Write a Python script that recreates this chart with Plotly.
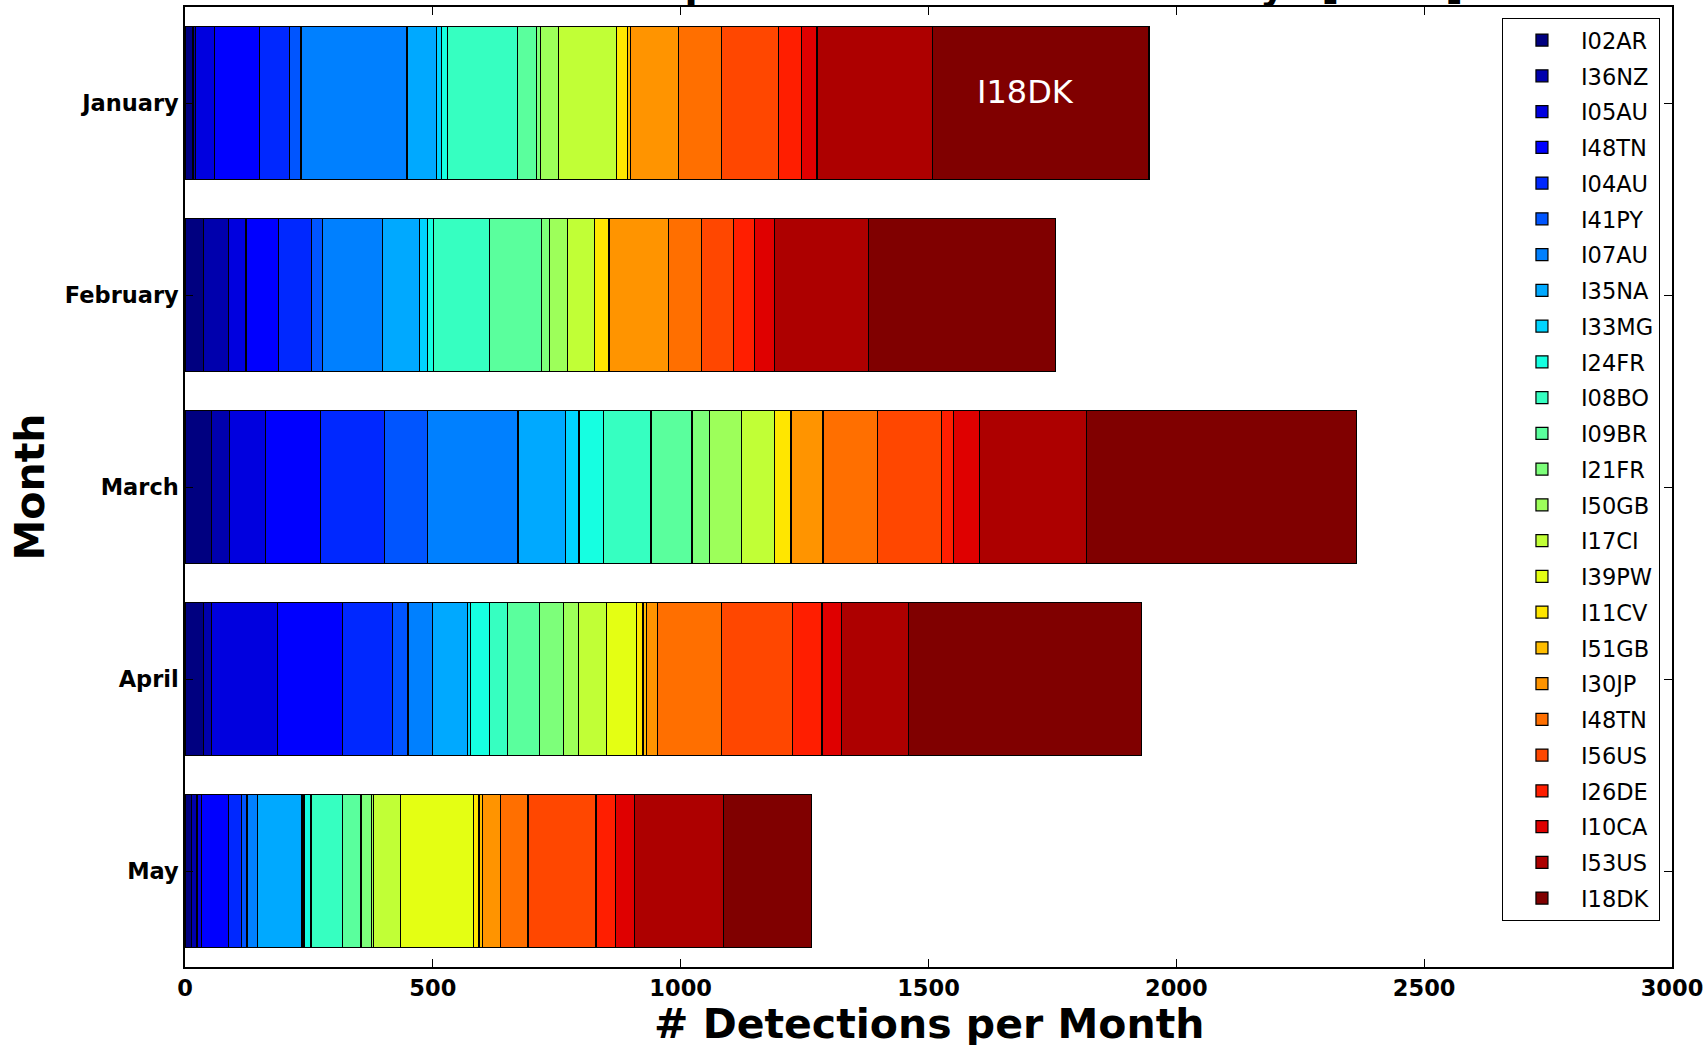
import numpy as np
import plotly.graph_objects as go

# ---- data ----
months = ["January", "February", "March", "April", "May"]
stations = ["I02AR", "I36NZ", "I05AU", "I48TN", "I04AU", "I41PY", "I07AU", "I35NA",
            "I33MG", "I24FR", "I08BO", "I09BR", "I21FR", "I50GB", "I17CI", "I39PW",
            "I11CV", "I51GB", "I30JP", "I48TN", "I56US", "I26DE", "I10CA", "I53US", "I18DK"]

jan = [16, 5, 39, 91, 60, 23, 214, 59, 11, 12, 141, 38, 9, 36, 116, 0, 23, 6, 96, 88, 115, 45, 32, 233, 437]
feb = [37, 51, 35, 66, 67, 21, 122, 74, 16, 12, 114, 105, 16, 35, 55, 0, 29, 2, 118, 67, 65, 42, 40, 190, 378]
mar = [54, 36, 72, 111, 129, 88, 182, 95, 28, 49, 96, 83, 35, 65, 66, 0, 32, 3, 63, 110, 129, 25, 52, 215, 546]
apr = [37, 16, 133, 132, 101, 31, 50, 70, 6, 38, 36, 65, 48, 31, 56, 61, 13, 7, 23, 129, 143, 59, 40, 134, 470]
may = [13, 11, 9, 54, 27, 11, 21, 90, 4, 14, 63, 38, 21, 5, 53, 148, 11, 7, 37, 55, 137, 40, 38, 179, 178]

x_ticks = [0, 500, 1000, 1500, 2000, 2500, 3000]
title_text = "Detections per Month across IMS Arrays [2014]"
x_title = "# Detections per Month"
y_title = "Month"
label_text = "I18DK"
label_x = 1695
label_month = "January"


# ---- jet colormap (matplotlib definition) ----
def jet(v):
    k = min(int(v * 256), 255)
    p = k / 255.0
    r = np.interp(p, [0, 0.35, 0.66, 0.89, 1], [0, 0, 1, 1, 0.5])
    g = np.interp(p, [0, 0.125, 0.375, 0.64, 0.91, 1], [0, 0, 1, 1, 0, 0])
    b = np.interp(p, [0, 0.11, 0.34, 0.65, 1], [0.5, 1, 1, 0, 0])
    return "rgb(%d,%d,%d)" % (round(r * 255), round(g * 255), round(b * 255))


n = len(stations)
series = [jan, feb, mar, apr, may]

fig = go.Figure()
for i, name in enumerate(stations):
    fig.add_trace(go.Bar(
        y=months,
        x=[s[i] for s in series],
        name=name,
        orientation="h",
        legendgroup="g%d" % i,
        marker=dict(color=jet(i / (n - 1)), line=dict(color="black", width=1.2)),
    ))

FONT = "DejaVu Sans"

fig.add_annotation(
    x=label_x, y=label_month, xref="x", yref="y",
    text=label_text, showarrow=False, yshift=11,
    font=dict(family=FONT, size=32, color="white"),
)

# title (mostly above the visible page, as in the reference)
fig.add_annotation(
    x=0.5146, y=1, xref="paper", yref="paper",
    text=title_text, showarrow=False, xanchor="center", yanchor="bottom", yshift=-3,
    font=dict(family=FONT, size=38.4, color="black", weight="bold"),
)

# x axis title
fig.add_annotation(
    x=0.5, y=0, xref="paper", yref="paper",
    text=x_title, showarrow=False, xanchor="center", yanchor="top", yshift=-31,
    font=dict(family=FONT, size=41, color="black", weight="bold"),
)

fig.update_layout(
    width=1707, height=1045,
    margin=dict(l=184.5, r=35, t=7, b=78, pad=0),
    barmode="stack", bargap=0.2,
    plot_bgcolor="white", paper_bgcolor="white",
    font=dict(family=FONT, color="black"),
    showlegend=True,
    legend=dict(
        x=0.9919, xanchor="right", y=0.9886, yanchor="top",
        bordercolor="black", borderwidth=1, bgcolor="white",
        font=dict(family=FONT, size=22.5, color="black"),
        traceorder="grouped", tracegroupgap=3.5, itemwidth=68,
    ),
)

fig.update_xaxes(
    range=[0, 3000], tickvals=x_ticks, ticktext=[str(t) for t in x_ticks],
    ticks="inside", ticklen=8, tickwidth=1, tickcolor="black",
    showline=True, linecolor="black", linewidth=1.5, mirror="ticks",
    showgrid=False, zeroline=False, automargin=False,
    tickfont=dict(family=FONT, size=22.5, color="black", weight="bold"),
)

fig.update_yaxes(
    categoryorder="array", categoryarray=months, autorange="reversed",
    ticks="inside", ticklen=8, tickwidth=1, tickcolor="black",
    showline=True, linecolor="black", linewidth=1.5, mirror="ticks",
    showgrid=False, zeroline=False, automargin=False,
    tickfont=dict(family=FONT, size=22.5, color="black", weight="bold"),
    title=dict(text=y_title, standoff=8,
               font=dict(family=FONT, size=41, color="black", weight="bold")),
)

fig.write_html("out.html")
